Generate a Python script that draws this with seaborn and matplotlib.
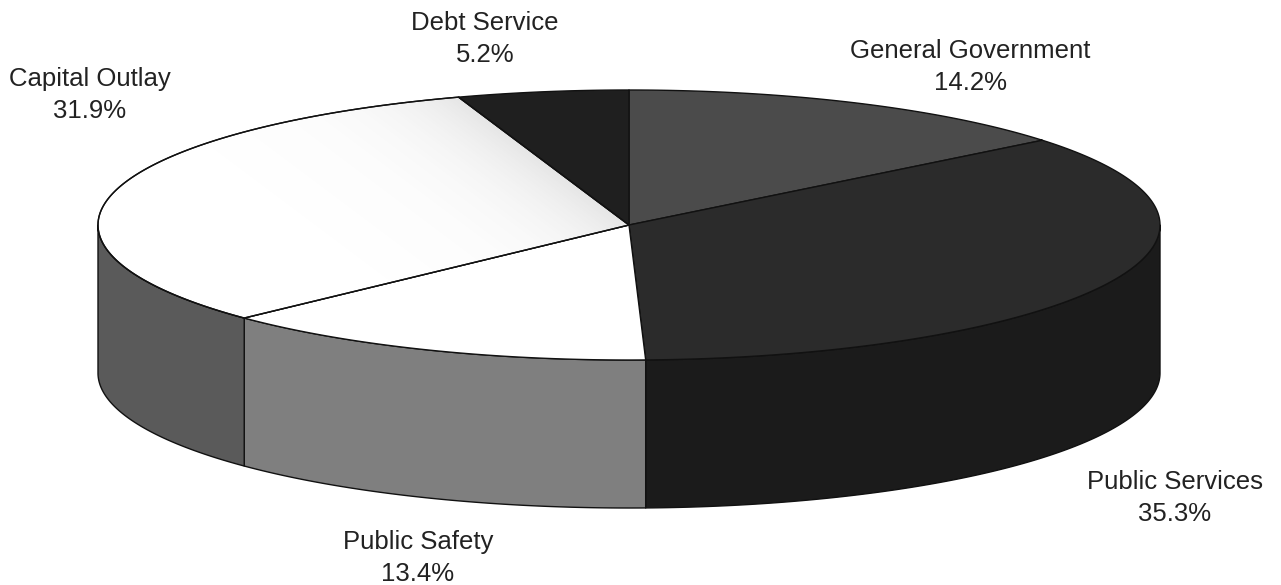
import numpy as np
import matplotlib
matplotlib.use("Agg")
import matplotlib.pyplot as plt
from matplotlib.patches import Polygon
import seaborn as sns

# Expenditure shares by function (percent of total)
categories = ["General Government", "Public Services", "Public Safety",
              "Capital Outlay", "Debt Service"]
shares = [14.2, 35.3, 13.4, 31.9, 5.2]

# Shading of the disc top and of its rim for each slice
top_colors = ["#4b4b4b", "#2b2b2b", "#ffffff", "#ffffff", "#1f1f1f"]
side_colors = ["#4b4b4b", "#1b1b1b", "#7f7f7f", "#5a5a5a", "#1f1f1f"]

# Label anchors (figure pixels)
label_xy = [(970, 67), (1175, 498), (418, 558), (90, 95), (485, 39)]

sns.set_theme(style="white")
plt.rcParams["font.family"] = ["Liberation Sans", "DejaVu Sans"]

fig = plt.figure(figsize=(12.81, 5.85), dpi=100)
ax = fig.add_axes([0, 0, 1, 1])
ax.set_xlim(0, 1281)
ax.set_ylim(585, 0)
ax.axis("off")

cx, cy, rx, ry, depth = 629, 225, 531, 135, 148


def ell(theta_deg):
    t = np.radians(theta_deg)
    return cx + rx * np.cos(t), cy - ry * np.sin(t)


# slice boundaries, clockwise from 12 o'clock
bounds = 90 - 360 * np.cumsum([0] + shares) / sum(shares)

# rim (front half of the disc only)
for i in range(len(shares)):
    start, end = bounds[i], bounds[i + 1]
    lo, hi = max(end, -180), min(start, 0)
    if lo >= hi:
        continue
    t = np.linspace(hi, lo, 200)
    x, y = ell(t)
    pts = np.column_stack([np.r_[x, x[::-1]], np.r_[y, (y + depth)[::-1]]])
    ax.add_patch(Polygon(pts, closed=True, facecolor=side_colors[i],
                         edgecolor="#111111", lw=1.0, joinstyle="round"))

# top faces
top_patches = []
for i in range(len(shares)):
    start, end = bounds[i], bounds[i + 1]
    t = np.linspace(start, end, 300)
    x, y = ell(t)
    pts = np.column_stack([np.r_[cx, x], np.r_[cy, y]])
    p = Polygon(pts, closed=True, facecolor=top_colors[i],
                edgecolor="#111111", lw=1.0, joinstyle="round", zorder=1)
    ax.add_patch(p)
    top_patches.append(p)

# light shading on the Capital Outlay top along its edge with Debt Service
bx, by = ell(bounds[4])
yy, xx = np.mgrid[0:585, 0:1281] + 0.5
dx, dy = bx - cx, by - cy
dist = np.abs(dy * (xx - cx) - dx * (yy - cy)) / np.hypot(dx, dy)
alpha = 0.17 * np.exp(-dist / 50.0)
rgba = np.zeros((585, 1281, 4))
rgba[..., :3] = 0.4
rgba[..., 3] = np.clip(alpha, 0, 1)
im = ax.imshow(rgba, extent=(0, 1281, 585, 0), interpolation="bilinear", zorder=1.5)
im.set_clip_path(top_patches[3])
ax.add_patch(Polygon(top_patches[3].get_xy(), closed=True, facecolor="none",
                     edgecolor="#111111", lw=1.0, zorder=1.6))

for (lx, ly), cat, val in zip(label_xy, categories, shares):
    ax.text(lx, ly, f"{cat}\n{val:.1f}%", ha="center", va="center",
            fontsize=18.5, color="#222222", linespacing=1.42)

fig.savefig("out.png", dpi=100, facecolor="white")
